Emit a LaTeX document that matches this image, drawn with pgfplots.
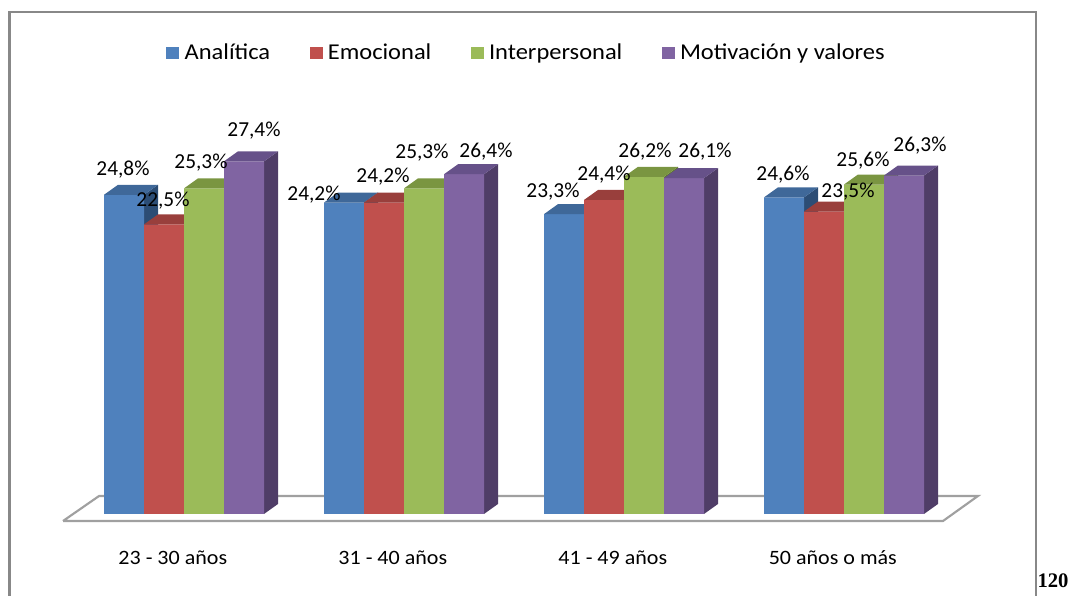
\documentclass[border=0pt]{standalone}
\usepackage{pgfplots}
\pgfplotsset{compat=1.18}
\usepackage{pgfplotstable}
\usepackage{graphicx}
\usepackage{fontspec}
\setmainfont{Carlito}
\newfontfamily\pagefont{Liberation Serif}

\definecolor{fBlue}{HTML}{4F81BD}
\definecolor{tBlue}{HTML}{3F6899}
\definecolor{sBlue}{HTML}{2C4D75}
\definecolor{fRed}{HTML}{C0504D}
\definecolor{tRed}{HTML}{993F3C}
\definecolor{sRed}{HTML}{772C2A}
\definecolor{fGreen}{HTML}{9BBB59}
\definecolor{tGreen}{HTML}{7A9541}
\definecolor{sGreen}{HTML}{5F7530}
\definecolor{fPurple}{HTML}{8064A2}
\definecolor{tPurple}{HTML}{665189}
\definecolor{sPurple}{HTML}{4F3D67}
\definecolor{floorGray}{HTML}{A0A0A0}
\definecolor{frameGray}{HTML}{888888}

% slightly widened text
\newcommand{\wide}[1]{\scalebox{1.08}[1]{#1}}

% 3D faces of a bar: depth offset 10.5pt right, 7.5pt up; bar width 30pt; 9.6525pt per percent
\pgfdeclareplotmark{topface}{%
  \pgfpathmoveto{\pgfpoint{0pt}{0pt}}%
  \pgfpathlineto{\pgfpoint{30pt}{0pt}}%
  \pgfpathlineto{\pgfpoint{40.5pt}{7.5pt}}%
  \pgfpathlineto{\pgfpoint{10.5pt}{7.5pt}}%
  \pgfpathclose\pgfusepathqfill}
\pgfdeclareplotmark{sideface}{%
  \pgfpathmoveto{\pgfpoint{0pt}{0pt}}%
  \pgfpathlineto{\pgfpoint{10.5pt}{7.5pt}}%
  \pgfpathlineto{\pgfpoint{10.5pt}{7.5pt-\barv*9.6525pt}}%
  \pgfpathlineto{\pgfpoint{0pt}{-\barv*9.6525pt}}%
  \pgfpathclose\pgfusepathqfill}

% x: age group, v: percentage, dx/dy: label offset from the bar top (px)
\pgfplotstableread{
x v dx dy
0 24.8 -1 25
1 24.2 -30 7.5
2 23.3 -11 23
3 24.6 -1 23
}\analitica
\pgfplotstableread{
x v dx dy
0 22.5 -1 24
1 24.2 -1 25.5
2 24.4 0 25
3 23.5 24 20
}\emocional
\pgfplotstableread{
x v dx dy
0 25.3 -3 26
1 25.3 -2 36
2 26.2 1 25
3 25.6 -1 23.5
}\interpersonal
\pgfplotstableread{
x v dx dy
0 27.4 10 31
1 26.4 22 23
2 26.1 21 26
3 26.3 16 30
}\motivacion

% #1 table, #2 left edge of the front face (axis units), #3 bar shift,
% #4 front colour, #5 top colour, #6 side colour
\newcommand{\prismbars}[6]{%
  \addplot[forget plot, scatter, only marks, mark=sideface,
    scatter/use mapped color={draw=none, fill=#6},
    visualization depends on={rawy\as\barv}]
    table[x expr=\thisrow{x}+#2+0.181818, y=v] {#1};
  \addplot[forget plot, ybar, bar width=30pt, bar shift=#3, fill=#4, draw=none]
    table[x=x, y=v] {#1};
  \addplot[forget plot, scatter, only marks, mark=topface,
    scatter/use mapped color={draw=none, fill=#5}]
    table[x expr=\thisrow{x}+#2, y=v] {#1};
}
% value labels, #2 centre of the front face (axis units)
\newcommand{\valuelabels}[2]{%
  \addplot[forget plot, draw=none,
    visualization depends on={\thisrow{dx}\as\ldx},
    visualization depends on={\thisrow{dy}\as\ldy},
    nodes near coords={\pgfmathprintnumber[fixed, fixed zerofill, precision=1, use comma, assume math mode=true]{\pgfplotspointmeta}\%},
    nodes near coords style={anchor=center, xshift={\ldx*0.75pt}, yshift={\ldy*0.75pt},
      font=\fontsize{16}{18}\selectfont, text=black, inner sep=0pt}]
    table[x expr=\thisrow{x}+#2, y=v] {#1};
}

\begin{document}
\begin{tikzpicture}
\path (0,0) rectangle (807pt,447pt);
\begin{axis}[
  at={(39pt,51.8475pt)}, anchor=south west,
  x=165pt, y=9.6525pt,
  xmin=-0.6, xmax=3.7, ymin=-1, ymax=30,
  enlargelimits=false, clip=false, clip mode=individual,
  axis line style={draw=none}, tick style={draw=none},
  ytick=\empty,
  xtick={0,1,2,3},
  xticklabels={\wide{23 - 30 años}, \wide{31 - 40 años}, \wide{41 - 49 años}, \wide{50 años o más}},
  xticklabel style={anchor=center, yshift=-23.35pt, xshift=-8.4pt,
    font=\fontsize{15.3}{18}\selectfont},
  legend style={at={(0.502,1.188)}, anchor=center, draw=none, fill=none,
    legend columns=4, font=\fontsize{17}{20}\selectfont,
    /tikz/every odd column/.append style={column sep=2pt},
    /tikz/every even column/.append style={column sep=27.5pt}},
  legend image code/.code={\fill (0pt,-4.5pt) rectangle (9.75pt,4.5pt);},
]
% floor
\addplot[forget plot, draw=floorGray, fill=white, line width=1.6pt]
  coordinates {(-0.55,-0.544) (-0.386,1.40) (3.609,1.40) (3.45,-0.544) (-0.55,-0.544)};

\prismbars{\analitica}{-0.363636}{-45pt}{fBlue}{tBlue}{sBlue}
\prismbars{\emocional}{-0.181818}{-15pt}{fRed}{tRed}{sRed}
\prismbars{\interpersonal}{0}{15pt}{fGreen}{tGreen}{sGreen}
\prismbars{\motivacion}{0.181818}{45pt}{fPurple}{tPurple}{sPurple}

\valuelabels{\analitica}{-0.272727}
\valuelabels{\emocional}{-0.090909}
\valuelabels{\interpersonal}{0.090909}
\valuelabels{\motivacion}{0.272727}

\addlegendimage{fill=fBlue, draw=none}
\addlegendentry{\wide{Analítica}}
\addlegendimage{fill=fRed, draw=none}
\addlegendentry{\wide{Emocional}}
\addlegendimage{fill=fGreen, draw=none}
\addlegendentry{\wide{Interpersonal}}
\addlegendimage{fill=fPurple, draw=none}
\addlegendentry{\wide{Motivación y valores}}
\end{axis}
% chart frame
\draw[frameGray, line width=1.5pt] (7.125pt,0pt) -- (7.125pt,438pt) -- (777pt,438pt) -- (777pt,0pt);
\draw[frameGray, line width=2.25pt] (7.125pt,0pt) -- (7.125pt,438.75pt);
\node[font=\pagefont\bfseries\fontsize{15.5}{18}\selectfont, inner sep=0pt] at (789.75pt,11.25pt) {120};
\end{tikzpicture}
\end{document}
